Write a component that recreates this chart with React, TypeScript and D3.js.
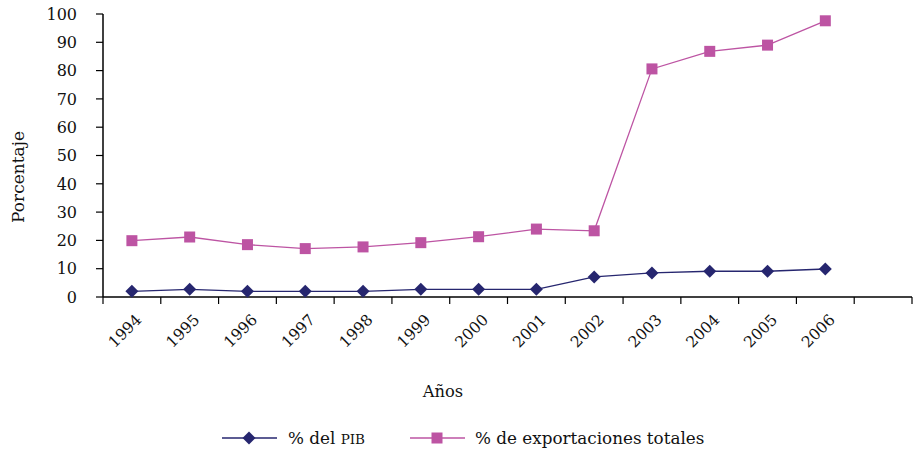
import React from "react";
import * as d3 from "d3";

const years = ["1994","1995","1996","1997","1998","1999","2000","2001","2002","2003","2004","2005","2006"];
const pib = [2.0, 2.7, 2.0, 2.0, 2.0, 2.7, 2.7, 2.7, 7.1, 8.5, 9.1, 9.1, 9.9];
const exportaciones = [19.9, 21.2, 18.5, 17.1, 17.7, 19.2, 21.3, 24.0, 23.4, 80.6, 86.8, 89.0, 97.6];
const yTicks = [0, 10, 20, 30, 40, 50, 60, 70, 80, 90, 100];
const slots = [...years, ""];

const NAVY = "#26266f";
const PINK = "#bd54a3";
const FONT = "'DejaVu Serif', serif";

export default function App() {
  const W = 914, H = 450;
  const left = 103, right = 912, top = 14, bottom = 297;
  const x = d3.scaleBand<string>().domain(slots).range([left, right]).paddingInner(0).paddingOuter(0);
  const y = d3.scaleLinear().domain([0, 100]).range([bottom, top]);
  const cx = (i: number) => (x(years[i]) as number) + x.bandwidth() / 2;
  const line = d3.line<number>().x((_, i) => cx(i)).y(d => y(d));
  const bandTicks = slots.map(s => x(s) as number).concat([right]);

  const diamond = (px: number, py: number, r = 6.5) =>
    `M${px},${py - r}L${px + r},${py}L${px},${py + r}L${px - r},${py}Z`;

  return (
    <svg width={W} height={H} style={{ position: "absolute", left: 0, top: 0 }} fontFamily={FONT}>
      <rect width={W} height={H} fill="#fff" />
      {/* y axis */}
      <line x1={left} x2={left} y1={top} y2={bottom} stroke="#000" strokeWidth={1.5} />
      {yTicks.map(t => (
        <g key={t}>
          <line x1={left - 7} x2={left} y1={y(t)} y2={y(t)} stroke="#000" strokeWidth={1.2} />
          <text x={77} y={y(t)} dy="0.36em" textAnchor="end" fontSize={16} fill="#111">{t}</text>
        </g>
      ))}
      {/* x axis */}
      <line x1={left} x2={right} y1={bottom} y2={bottom} stroke="#000" strokeWidth={1.5} />
      {bandTicks.map((t, i) => (
        <line key={i} x1={t} x2={t} y1={bottom} y2={bottom + 7} stroke="#000" strokeWidth={1.2} />
      ))}
      {years.map((yr, i) => (
        <text key={yr} transform={`translate(${cx(i) + 3},${bottom + 16}) rotate(-45)`} textAnchor="end" dy="0.7em" fontSize={15.5} fill="#111">{yr}</text>
      ))}
      <text x={443} y={391} dy="0.35em" textAnchor="middle" fontSize={16.3} fill="#111">Años</text>
      <text transform={`translate(18,177) rotate(-90)`} dy="0.35em" textAnchor="middle" fontSize={17} fill="#111">Porcentaje</text>

      {/* series */}
      <path d={line(exportaciones) || ""} fill="none" stroke={PINK} strokeWidth={1.3} />
      {exportaciones.map((v, i) => (
        <rect key={i} x={cx(i) - 5.5} y={y(v) - 5.5} width={11} height={11} fill={PINK} />
      ))}
      <path d={line(pib) || ""} fill="none" stroke={NAVY} strokeWidth={1.3} />
      {pib.map((v, i) => (
        <path key={i} d={diamond(cx(i), y(v))} fill={NAVY} />
      ))}

      {/* legend */}
      <line x1={222} x2={277} y1={438} y2={438} stroke={NAVY} strokeWidth={1.3} />
      <path d={diamond(249, 438)} fill={NAVY} />
      <text x={288} y={438} dy="0.35em" fontSize={16.8} fill="#111">% del <tspan fontSize={13.5}>PIB</tspan></text>
      <line x1={410} x2={465} y1={438} y2={438} stroke={PINK} strokeWidth={1.3} />
      <rect x={437 - 5.5} y={438 - 5.5} width={11} height={11} fill={PINK} />
      <text x={475} y={438} dy="0.35em" fontSize={16.8} fill="#111">% de exportaciones totales</text>
    </svg>
  );
}
